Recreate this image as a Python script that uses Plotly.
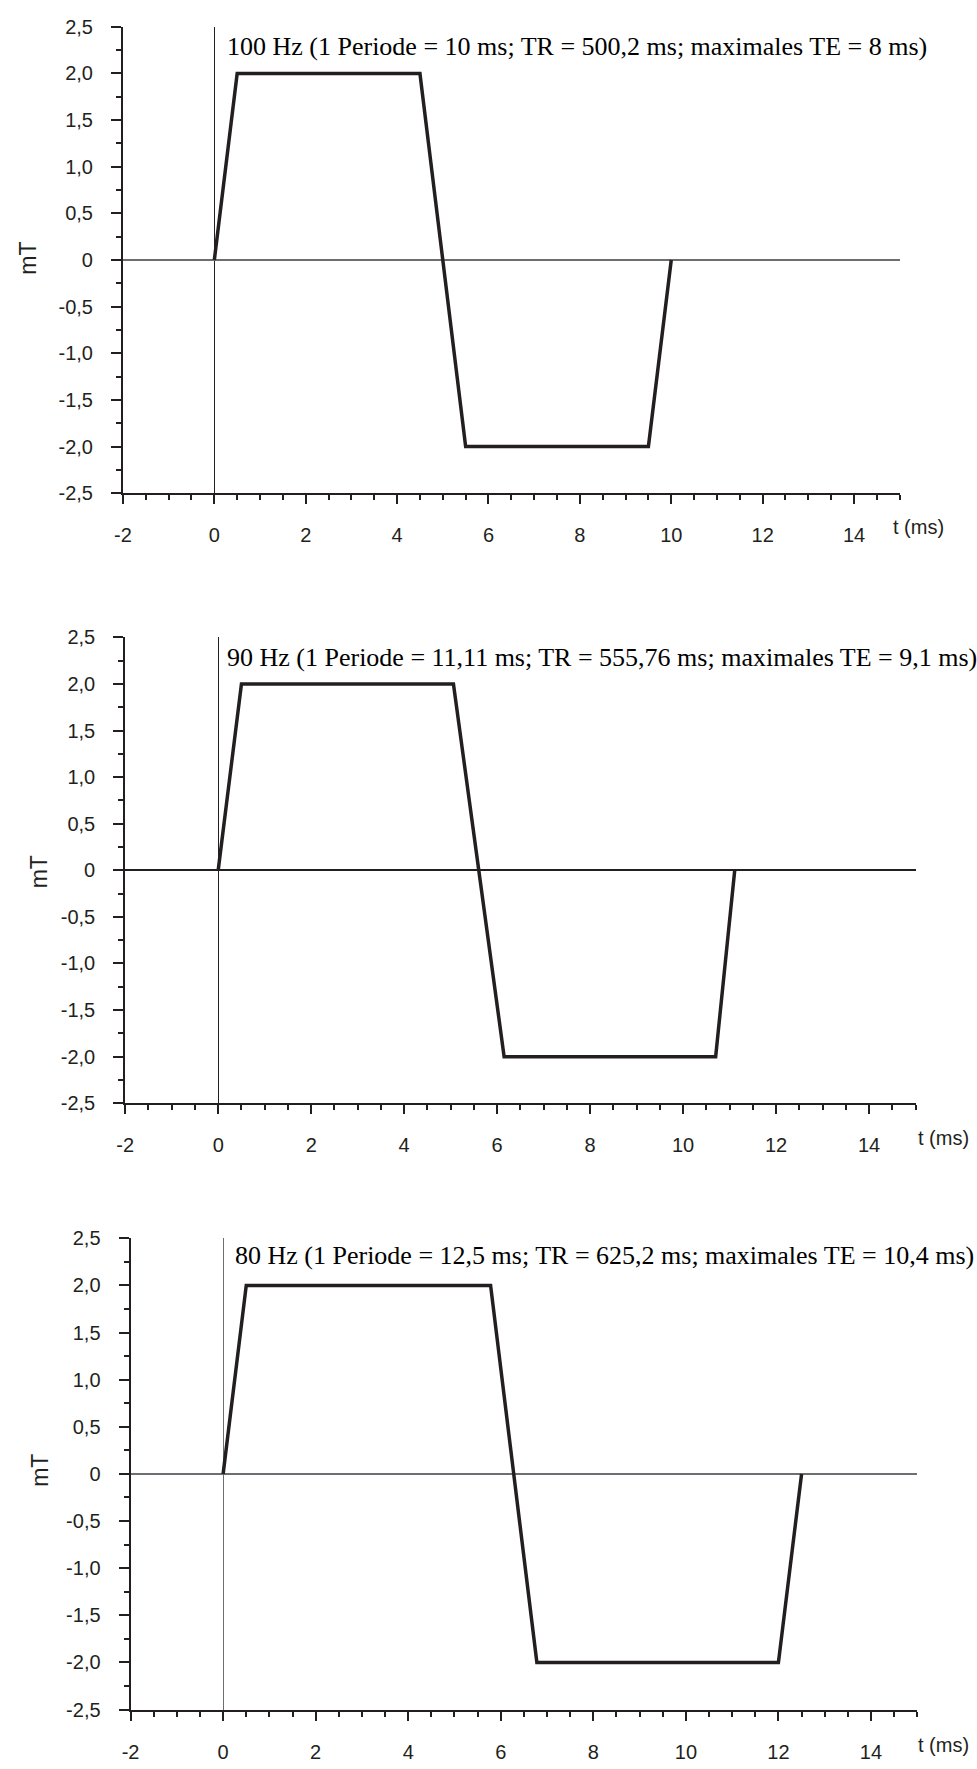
import plotly.graph_objects as go

W, H = 977, 1769

# ---- data ----
t_100 = [0, 0.5, 4.5, 5.5, 9.5, 10.0]
b_100 = [0, 2.0, 2.0, -2.0, -2.0, 0]
t_90 = [0, 0.5, 5.06, 6.15, 10.7, 11.11]
b_90 = [0, 2.0, 2.0, -2.0, -2.0, 0]
t_80 = [0, 0.5, 5.78, 6.78, 12.0, 12.5]
b_80 = [0, 2.0, 2.0, -2.0, -2.0, 0]

labels = [
    "100 Hz (1 Periode = 10 ms; TR = 500,2 ms; maximales TE = 8 ms)",
    "90 Hz (1 Periode = 11,11 ms; TR = 555,76 ms; maximales TE = 9,1 ms)",
    "80 Hz (1 Periode = 12,5 ms; TR = 625,2 ms; maximales TE = 10,4 ms)",
]
y_tickvals = [2.5, 2.0, 1.5, 1.0, 0.5, 0, -0.5, -1.0, -1.5, -2.0, -2.5]
y_ticktext = ["2,5", "2,0", "1,5", "1,0", "0,5", "0", "-0,5", "-1,0", "-1,5", "-2,0", "-2,5"]
x_tickvals = [-2, 0, 2, 4, 6, 8, 10, 12, 14]
x_ticktext = ["-2", "0", "2", "4", "6", "8", "10", "12", "14"]
x_title = "t (ms)"
y_title = "mT"

# ---- layout geometry (pixels) ----
panels = [
    dict(x0=115, x1=899, y0=16, y1=488.3, zx="#231f20", zy="#6d6e71",
         lab=(219.5, 35.5), tms=(890, 522), mt=(19, 250)),
    dict(x0=117.3, x1=915, y0=634.3, y1=1106, zx="#231f20", zy="#231f20",
         lab=(219.5, 654.5), tms=(915, 1141), mt=(30.5, 872)),
    dict(x0=122.7, x1=916.7, y0=1242.7, y1=1720, zx="#6d6e71", zy="#6d6e71",
         lab=(227, 1260.5), tms=(915, 1756), mt=(30.5, 1478)),
]
series = [(t_100, b_100), (t_90, b_90), (t_80, b_80)]

ink = "#231f20"
fig = go.Figure()
annotations = []
for i, (p, (tx, by)) in enumerate(zip(panels, series)):
    n = "" if i == 0 else str(i + 1)
    fig.add_trace(go.Scatter(
        x=tx, y=by, mode="lines", xaxis="x" + n, yaxis="y" + n,
        line=dict(color=ink, width=3.5), showlegend=False, hoverinfo="skip"))
    xa = dict(
        domain=[p["x0"] / W, p["x1"] / W], range=[-2, 15], anchor="y" + n,
        showgrid=False, showline=True, linecolor=ink, linewidth=2,
        zeroline=True, zerolinecolor=p["zx"], zerolinewidth=1.3,
        tickmode="array", tickvals=x_tickvals, ticktext=x_ticktext,
        ticks="outside", ticklen=9, tickwidth=2, tickcolor=ink,
        ticklabelstandoff=14,
        tickfont=dict(family="Liberation Sans, Arial", size=20, color=ink),
        minor=dict(ticks="outside", dtick=0.5, tick0=0, ticklen=5, tickwidth=2, tickcolor=ink),
        fixedrange=True,
    )
    ya = dict(
        domain=[1 - p["y1"] / H, 1 - p["y0"] / H], range=[-2.5, 2.5], anchor="x" + n,
        showgrid=False, showline=True, linecolor=ink, linewidth=2,
        zeroline=True, zerolinecolor=p["zy"], zerolinewidth=1.6,
        tickmode="array", tickvals=y_tickvals, ticktext=y_ticktext,
        ticks="outside", ticklen=10, tickwidth=2, tickcolor=ink,
        ticklabelstandoff=14,
        tickfont=dict(family="Liberation Sans, Arial", size=20, color=ink),
        minor=dict(ticks="outside", dtick=0.25, tick0=0, ticklen=5, tickwidth=2, tickcolor=ink),
        fixedrange=True,
    )
    fig.layout["xaxis" + n] = xa
    fig.layout["yaxis" + n] = ya
    annotations.append(dict(
        text=labels[i], x=p["lab"][0] / W, y=1 - p["lab"][1] / H, xref="paper", yref="paper",
        xanchor="left", yanchor="middle", showarrow=False, borderpad=0,
        font=dict(family="Liberation Serif, Times New Roman", size=26, color="#000000")))
    annotations.append(dict(
        text=x_title, x=p["tms"][0] / W, y=1 - p["tms"][1] / H, xref="paper", yref="paper",
        xanchor="left", yanchor="middle", showarrow=False,
        font=dict(family="Liberation Sans, Arial", size=20, color=ink)))
    annotations.append(dict(
        text=y_title, x=p["mt"][0] / W, y=1 - p["mt"][1] / H, xref="paper", yref="paper",
        xanchor="center", yanchor="middle", showarrow=False, textangle=-90,
        font=dict(family="Liberation Sans, Arial", size=23, color=ink)))

fig.update_layout(
    width=W, height=H, margin=dict(l=0, r=0, t=0, b=0),
    paper_bgcolor="white", plot_bgcolor="white",
    annotations=annotations, showlegend=False,
)
fig.write_html("out.html", config={"displayModeBar": False})
